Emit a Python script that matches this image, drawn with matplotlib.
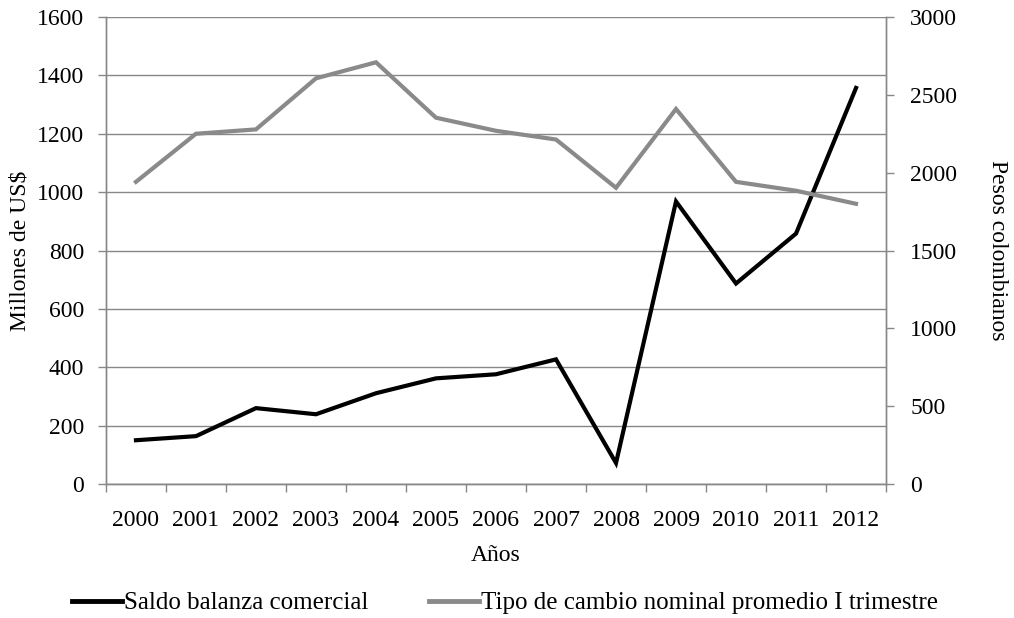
import matplotlib
matplotlib.use("Agg")
import matplotlib.pyplot as plt
from matplotlib.lines import Line2D

# Datos
anios = ['2000', '2001', '2002', '2003', '2004', '2005', '2006',
         '2007', '2008', '2009', '2010', '2011', '2012']
saldo_balanza = [150, 164, 260, 239, 311, 362, 376, 427, 72, 968, 687, 858, 1357]
tipo_cambio = [1941, 2250, 2278, 2606, 2709, 2353, 2269, 2213, 1903, 2409, 1941, 1884, 1800]

plt.rcParams['font.family'] = ['Liberation Serif', 'DejaVu Serif']
FS = 17
GRIS = '#878787'

fig = plt.figure(figsize=(10.14, 6.18), dpi=100)
ax = fig.add_axes([0.1045, 0.2168, 0.7693, 0.7557])
ax2 = ax.twinx()

x = list(range(len(anios)))
ax.plot(x, saldo_balanza, color='black', lw=3.0, solid_joinstyle='miter', zorder=3)
ax2.plot(x, tipo_cambio, color='#8a8a8a', lw=3.0, solid_joinstyle='miter', zorder=3)

ax.set_xlim(-0.5, len(anios) - 0.5)
ax.set_ylim(0, 1600)
ax.set_yticks(range(0, 1601, 200))
ax2.set_ylim(0, 3000)
ax2.set_yticks(range(0, 3001, 500))

# eje de categorias: marcas entre categorias
ax.set_xticks([i - 0.5 for i in range(len(anios) + 1)])
ax.set_xticklabels([])
ax.set_xticks(x, minor=True)
ax.set_xticklabels(anios, minor=True)
ax.tick_params(axis='x', which='minor', length=0, labelsize=FS, pad=18.5)
ax.tick_params(axis='x', which='major', length=6, width=1, color=GRIS, direction='out')
ax.tick_params(axis='y', length=6, width=1, color=GRIS, labelsize=FS, pad=9.6)
ax2.tick_params(axis='y', length=6, width=1, color=GRIS, labelsize=FS, pad=11.5)

ax.yaxis.grid(True, color=GRIS, lw=1)
ax.set_axisbelow(True)
for a in (ax, ax2):
    a.spines['top'].set_visible(False)
    for s in ('left', 'right', 'bottom'):
        a.spines[s].set_color(GRIS)
        a.spines[s].set_linewidth(1)

ax.set_ylabel('Millones de US$', fontsize=FS, labelpad=4.5)
ax2.set_ylabel('Pesos colombianos', fontsize=FS, rotation=270, labelpad=36.5)
ax.set_xlabel('Años', fontsize=FS, labelpad=10.4)

handles = [Line2D([], [], color='black', lw=3.5),
           Line2D([], [], color='#8a8a8a', lw=3.5)]
fig.legend(handles, ['Saldo balanza comercial',
                     'Tipo de cambio nominal promedio I trimestre'],
           loc='center', bbox_to_anchor=(0.498, 0.024), ncol=2, frameon=False,
           fontsize=18, handlelength=2.0, handletextpad=0.08, columnspacing=2.45)

fig.savefig('out.png', dpi=100)
